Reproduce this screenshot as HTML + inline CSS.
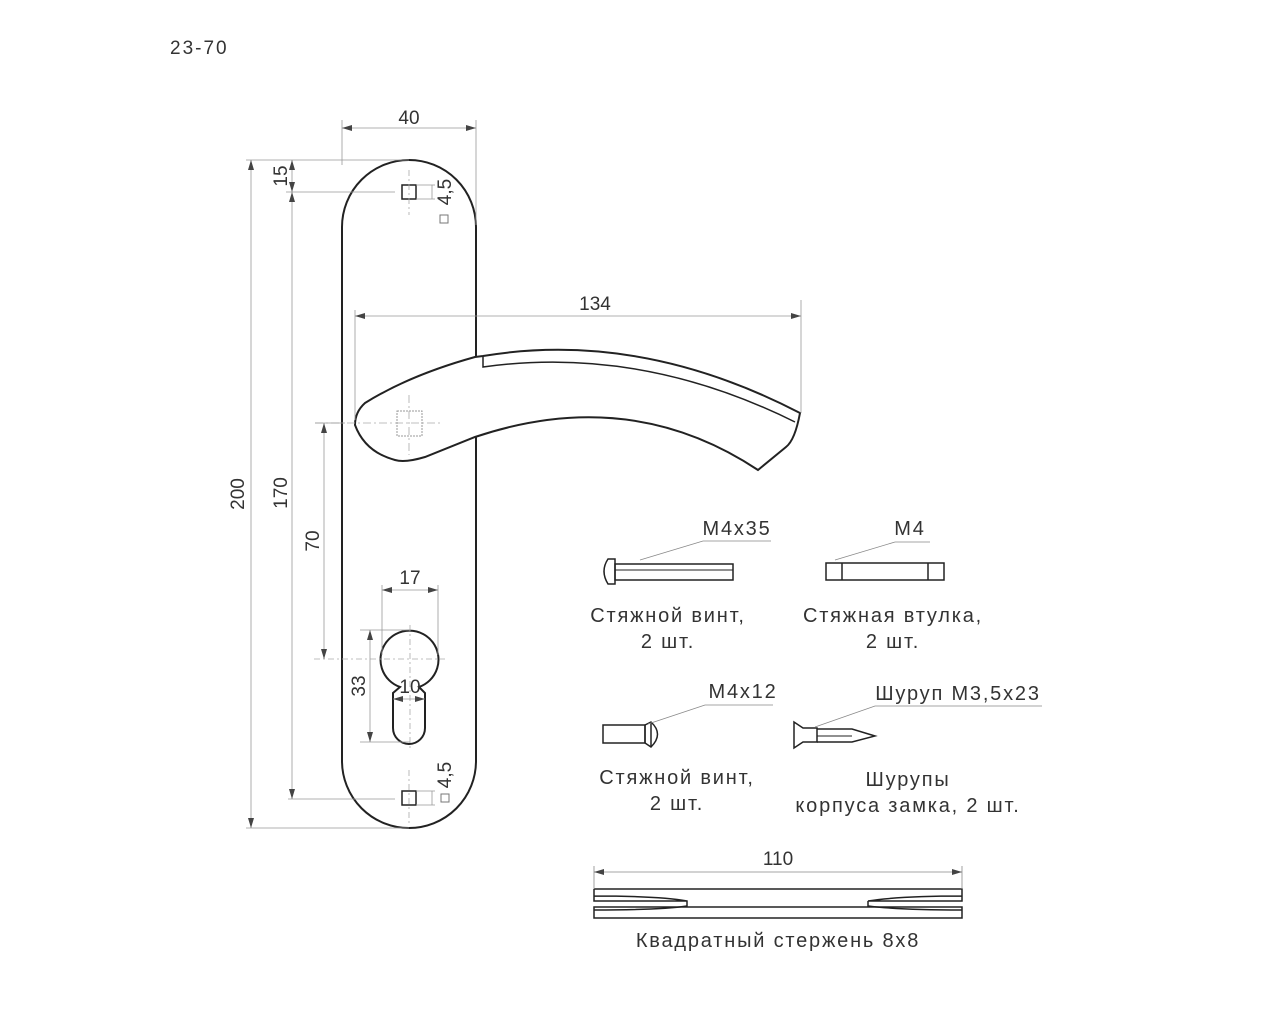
<!DOCTYPE html>
<html><head><meta charset="utf-8"><style>
html,body{margin:0;padding:0;background:#fff}
svg{display:block}
text{font-family:"Liberation Sans",sans-serif;fill:#333;font-size:19px}
.l{font-size:20px;letter-spacing:1.8px}
</style></head><body>
<svg width="1280" height="1024" viewBox="0 0 1280 1024" xmlns="http://www.w3.org/2000/svg">
<defs>
<marker id="a" viewBox="0 0 10 6" refX="10" refY="3" markerWidth="10" markerHeight="6" orient="auto-start-reverse" markerUnits="userSpaceOnUse"><path d="M0,0L10,3L0,6z" fill="#444"/></marker>
</defs>
<text x="170" y="54" font-size="20" letter-spacing="2">23-70</text>

<!-- plate -->
<path d="M342,227 A67,67 0 0 1 476,227 L476,761 A67,67 0 0 1 342,761 Z" fill="none" stroke="#222" stroke-width="2"/>
<!-- handle -->
<path d="M475,357 L483,356 Q640,330 800,413 Q795,440 786,447 L758,470 Q630,385 475,437 L425,457 Q405,463 395,460 Q365,452 355,425 Q355,412 365,403 Q410,375 475,357 Z" fill="#fff" stroke="#222" stroke-width="2"/>
<path d="M483,356 L483,367 Q640,345 795,422" fill="none" stroke="#222" stroke-width="1.5"/>
<rect x="397" y="411" width="25" height="25" fill="none" stroke="#999" stroke-width="1" stroke-dasharray="2,1"/>
<line x1="409" y1="395" x2="409" y2="455" stroke="#aaa" stroke-width="0.8" stroke-dasharray="8,3,2,3"/>
<line x1="315" y1="423" x2="440" y2="423" stroke="#aaa" stroke-width="0.8" stroke-dasharray="8,3,2,3"/>

<rect x="402" y="185" width="14" height="14" fill="none" stroke="#222" stroke-width="1.5"/>
<line x1="409" y1="170" x2="409" y2="215" stroke="#aaa" stroke-width="0.8" stroke-dasharray="6,3,2,3"/>
<rect x="440" y="215" width="8" height="8" fill="none" stroke="#777" stroke-width="1"/>
<rect x="402" y="791" width="14" height="14" fill="none" stroke="#222" stroke-width="1.5"/>
<line x1="409" y1="770" x2="409" y2="826" stroke="#aaa" stroke-width="0.8" stroke-dasharray="6,3,2,3"/>
<rect x="441" y="794" width="8" height="8" fill="none" stroke="#777" stroke-width="1"/>

<path d="M400,687 A29,29 0 1 1 419,687 L425,693 L425,728 A16,16 0 0 1 393,728 L393,693 Z" fill="none" stroke="#222" stroke-width="2"/>
<line x1="410" y1="625" x2="410" y2="748" stroke="#aaa" stroke-width="0.8" stroke-dasharray="6,3,2,3"/>
<line x1="314" y1="659" x2="445" y2="659" stroke="#aaa" stroke-width="0.8" stroke-dasharray="6,3,2,3"/>

<g stroke="#999" stroke-width="0.8" fill="none">
<line x1="342" y1="120" x2="342" y2="165"/><line x1="476" y1="120" x2="476" y2="225"/>
<line x1="342" y1="128" x2="476" y2="128" marker-start="url(#a)" marker-end="url(#a)"/>
<line x1="355" y1="310" x2="355" y2="420"/><line x1="801" y1="300" x2="801" y2="413"/>
<line x1="355" y1="316" x2="801" y2="316" marker-start="url(#a)" marker-end="url(#a)"/>
<line x1="246" y1="160" x2="409" y2="160"/>
<line x1="286" y1="192" x2="395" y2="192"/>
<line x1="288" y1="799" x2="395" y2="799"/>
<line x1="246" y1="828" x2="409" y2="828"/>
<line x1="315" y1="423" x2="345" y2="423"/>
<line x1="251" y1="160" x2="251" y2="828" marker-start="url(#a)" marker-end="url(#a)"/>
<line x1="292" y1="160" x2="292" y2="192" marker-start="url(#a)" marker-end="url(#a)"/>
<line x1="292" y1="192" x2="292" y2="799" marker-start="url(#a)" marker-end="url(#a)"/>
<line x1="324" y1="423" x2="324" y2="659" marker-start="url(#a)" marker-end="url(#a)"/>
<line x1="382" y1="585" x2="382" y2="655"/><line x1="438" y1="585" x2="438" y2="655"/>
<line x1="382" y1="590" x2="438" y2="590" marker-start="url(#a)" marker-end="url(#a)"/>
<line x1="360" y1="630" x2="410" y2="630"/><line x1="360" y1="742" x2="410" y2="742"/>
<line x1="370" y1="630" x2="370" y2="742" marker-start="url(#a)" marker-end="url(#a)"/>
<line x1="393" y1="699" x2="425" y2="699" marker-start="url(#a)" marker-end="url(#a)"/>
<line x1="416" y1="185" x2="435" y2="185"/><line x1="416" y1="199" x2="435" y2="199"/>
<line x1="432" y1="185" x2="432" y2="199"/>
<line x1="416" y1="791" x2="435" y2="791"/><line x1="416" y1="805" x2="435" y2="805"/>
<line x1="432" y1="791" x2="432" y2="805"/>
</g>

<text x="409" y="124" text-anchor="middle">40</text>
<text x="595" y="310" text-anchor="middle">134</text>
<text x="410" y="584" text-anchor="middle">17</text>
<text x="410" y="693" text-anchor="middle">10</text>
<text transform="translate(244 494) rotate(-90)" text-anchor="middle">200</text>
<text transform="translate(287 176) rotate(-90)" text-anchor="middle">15</text>
<text transform="translate(287 493) rotate(-90)" text-anchor="middle">170</text>
<text transform="translate(319 541) rotate(-90)" text-anchor="middle">70</text>
<text transform="translate(365 686) rotate(-90)" text-anchor="middle">33</text>
<text transform="translate(451 192) rotate(-90)" text-anchor="middle">4,5</text>
<text transform="translate(451 775) rotate(-90)" text-anchor="middle">4,5</text>

<g stroke="#222" stroke-width="1.5" fill="none">
<path d="M608,559 Q600,571 608,584 L615,584 L615,559 Z"/>
<rect x="615" y="564" width="118" height="16"/><line x1="615" y1="570" x2="733" y2="570" stroke-width="1"/>
<rect x="826" y="563" width="118" height="17"/>
<line x1="842" y1="563" x2="842" y2="580"/><line x1="928" y1="563" x2="928" y2="580"/>
<rect x="603" y="725" width="42" height="18"/>
<path d="M645,725 L651,722 Q664,734 651,747 L645,743 Z"/><line x1="651" y1="722" x2="651" y2="747"/>
<path d="M794,722 L794,748 L803,742 L817,742 L817,728 L803,728 Z"/>
<path d="M817,729 L852,729 L875,736 L852,742 L817,742"/><line x1="817" y1="736" x2="852" y2="736" stroke-width="1"/>
<path d="M594,889 L962,889 L962,901 L868,901 Q900,896 962,896 M594,896 Q660,896 687,901 L687,906 Q660,910 594,910 M594,889 L594,901 L687,901"/>
<path d="M594,907 L962,907 L962,918 L594,918 Z"/>
<path d="M868,901 L868,906 Q900,910 962,910"/>
</g>
<g stroke="#888" stroke-width="0.8" fill="none">
<polyline points="640,560 703,541 771,541"/>
<polyline points="835,560 895,542 930,542"/>
<polyline points="648,724 705,705 773,705"/>
<polyline points="815,727 875,706 1042,706"/>
<line x1="594" y1="866" x2="594" y2="889"/><line x1="962" y1="866" x2="962" y2="889"/>
<line x1="594" y1="872" x2="962" y2="872" marker-start="url(#a)" marker-end="url(#a)"/>
</g>
<text class="l" x="737" y="535" text-anchor="middle">M4x35</text>
<text class="l" x="910" y="535" text-anchor="middle">M4</text>
<text class="l" x="743" y="698" text-anchor="middle">M4x12</text>
<text class="l" x="958" y="700" text-anchor="middle">Шуруп М3,5х23</text>
<text class="l" x="668" y="622" text-anchor="middle">Стяжной винт,</text>
<text class="l" x="668" y="648" text-anchor="middle">2 шт.</text>
<text class="l" x="893" y="622" text-anchor="middle">Стяжная втулка,</text>
<text class="l" x="893" y="648" text-anchor="middle">2 шт.</text>
<text class="l" x="677" y="784" text-anchor="middle">Стяжной винт,</text>
<text class="l" x="677" y="810" text-anchor="middle">2 шт.</text>
<text class="l" x="908" y="786" text-anchor="middle">Шурупы</text>
<text class="l" x="908" y="812" text-anchor="middle">корпуса замка, 2 шт.</text>
<text x="778" y="865" text-anchor="middle">110</text>
<text class="l" x="778" y="947" text-anchor="middle">Квадратный стержень 8х8</text>
</svg>
</body></html>
